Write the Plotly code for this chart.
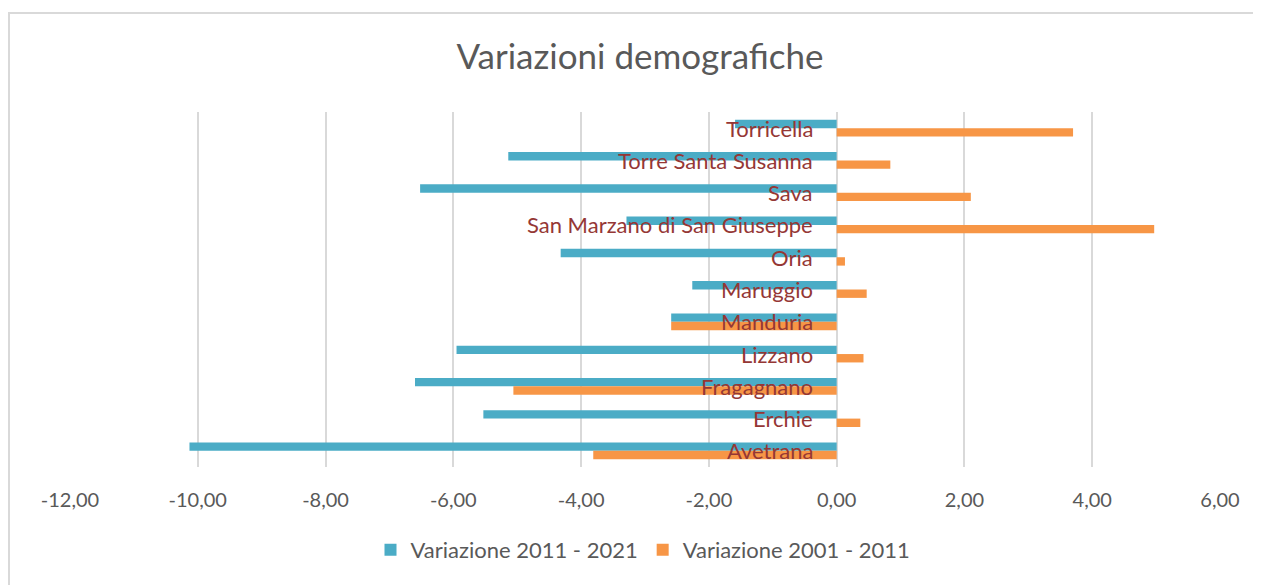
import plotly.graph_objects as go

# Categories top to bottom as displayed
comuni = ["Torricella", "Torre Santa Susanna", "Sava", "San Marzano di San Giuseppe",
          "Oria", "Maruggio", "Manduria", "Lizzano", "Fragagnano", "Erchie", "Avetrana"]
var_2011_2021 = [-1.59, -5.14, -6.52, -3.29, -4.32, -2.26, -2.59, -5.95, -6.60, -5.53, -10.13]
var_2001_2011 = [3.70, 0.84, 2.10, 4.97, 0.13, 0.47, -2.59, 0.42, -5.06, 0.37, -3.81]

tick_vals = [-12, -10, -8, -6, -4, -2, 0, 2, 4, 6]
tick_text = ["-12,00", "-10,00", "-8,00", "-6,00", "-4,00", "-2,00", "0,00", "2,00", "4,00", "6,00"]

BLUE = "#4BACC6"
ORANGE = "#F79646"
GREY_TXT = "#595959"
LABEL_RED = "#953735"

fig = go.Figure()
fig.add_trace(go.Bar(y=comuni, x=var_2011_2021, orientation="h", name="Variazione 2011 - 2021",
                     marker=dict(color=BLUE, line=dict(width=0))))
fig.add_trace(go.Bar(y=comuni, x=var_2001_2011, orientation="h", name="Variazione 2001 - 2011",
                     marker=dict(color=ORANGE, line=dict(width=0))))

annotations = []
for c in comuni:
    annotations.append(dict(x=0, y=c, xref="x", yref="y", text=c, showarrow=False,
                            xanchor="right", yanchor="middle", xshift=-22,
                            font=dict(family="Lato", size=22, color=LABEL_RED)))

# page body has an 8px margin: work in shifted coordinates
OFF = 8
FW, FH = 1261 - OFF, 585 - OFF
L, R, T, B = 70 - OFF, 1220 - OFF, 112 - OFF, 467 - OFF
W, H = R - L, B - T
def px_x(p):
    return (p - OFF - L) / W
def px_y(p):
    return (B - (p - OFF)) / H

shapes = [
    dict(type="rect", xref="paper", yref="paper", x0=px_x(9), x1=px_x(1275), y0=px_y(600), y1=px_y(13),
         line=dict(color="#D9D9D9", width=2), fillcolor="rgba(0,0,0,0)", layer="below"),
]

fig.update_layout(
    width=FW, height=FH,
    margin=dict(l=L, r=FW - R, t=T, b=FH - B),
    paper_bgcolor="white", plot_bgcolor="white",
    barmode="group", bargap=0.48, bargroupgap=0,
    title=dict(text="Variazioni demografiche", x=(640 - OFF) / FW, xref="container", xanchor="center",
               y=1 - (57 - OFF) / FH, yref="container", yanchor="middle",
               font=dict(family="Lato", size=35, color=GREY_TXT)),
    xaxis=dict(range=[-12, 6], tickvals=tick_vals, ticktext=tick_text, showgrid=True,
               gridcolor="#D9D9D9", gridwidth=2, zeroline=True, zerolinecolor="#D9D9D9",
               zerolinewidth=2, showline=False, ticks="", ticklabelstandoff=19,
               tickfont=dict(family="Lato", size=20, color=GREY_TXT), fixedrange=True),
    yaxis=dict(autorange="reversed", showticklabels=False, showgrid=False, zeroline=False,
               showline=False, ticks=""),
    legend=dict(orientation="h", x=(643 - OFF) / FW, xanchor="center", xref="container",
                y=1 - (550 - OFF) / FH, yref="container", yanchor="middle",
                font=dict(family="Lato", size=22, color=GREY_TXT), itemwidth=30,
                traceorder="normal"),
    annotations=annotations,
    shapes=shapes,
    showlegend=True,
)

fig.write_html("out.html")
